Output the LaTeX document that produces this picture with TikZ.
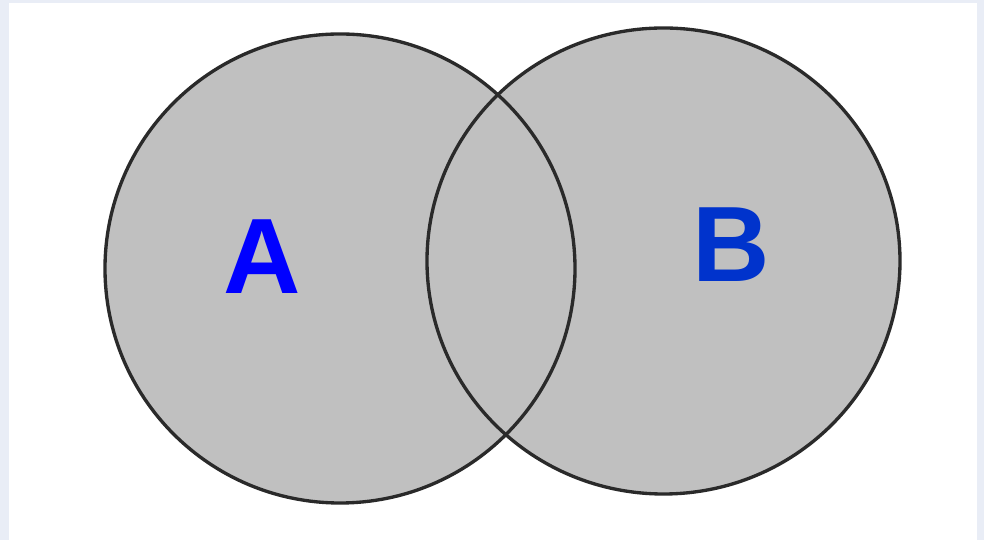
\documentclass[tikz,border=0pt]{standalone}
\usepackage{fontspec}
\setmainfont{Liberation Sans}
\usetikzlibrary{positioning, shapes.geometric}

\definecolor{framebg}{HTML}{E9EDF6}
\definecolor{setgray}{HTML}{C0C0C0}
\definecolor{rimgray}{HTML}{2A2A2A}
\definecolor{labelA}{HTML}{0000FF}
\definecolor{labelB}{HTML}{0033CC}

\begin{document}
\begin{tikzpicture}[
    every set/.style={ellipse, fill=setgray, inner sep=0pt},
    set rim/.style={draw=rimgray, line width=0.95pt},
    set label/.style={font=\fontsize{30.5}{36}\selectfont\bfseries, inner sep=0pt}
]

    % page with its thin frame
    \useasboundingbox (0,0) rectangle (9.84,5.40);
    \fill[framebg] (0,0) rectangle (9.84,5.40);
    \fill[white] (0.09,0) rectangle (9.77,5.37);

    % the two sets, filled first so both rims stay on top
    \node[every set, minimum width=4.70cm, minimum height=4.69cm] (setA) at (3.40,2.715) {};
    \node[every set, minimum width=4.73cm, minimum height=4.66cm] (setB) at (6.635,2.79) {};

    \draw[set rim] (setA) ellipse[x radius=2.35, y radius=2.345];
    \draw[set rim] (setB) ellipse[x radius=2.365, y radius=2.33];

    \node[set label, text=labelA] (nameA) at (2.62,2.835) {A};
    \node[set label, text=labelB] (nameB) at (7.31,2.95) {B};

\end{tikzpicture}
\end{document}
